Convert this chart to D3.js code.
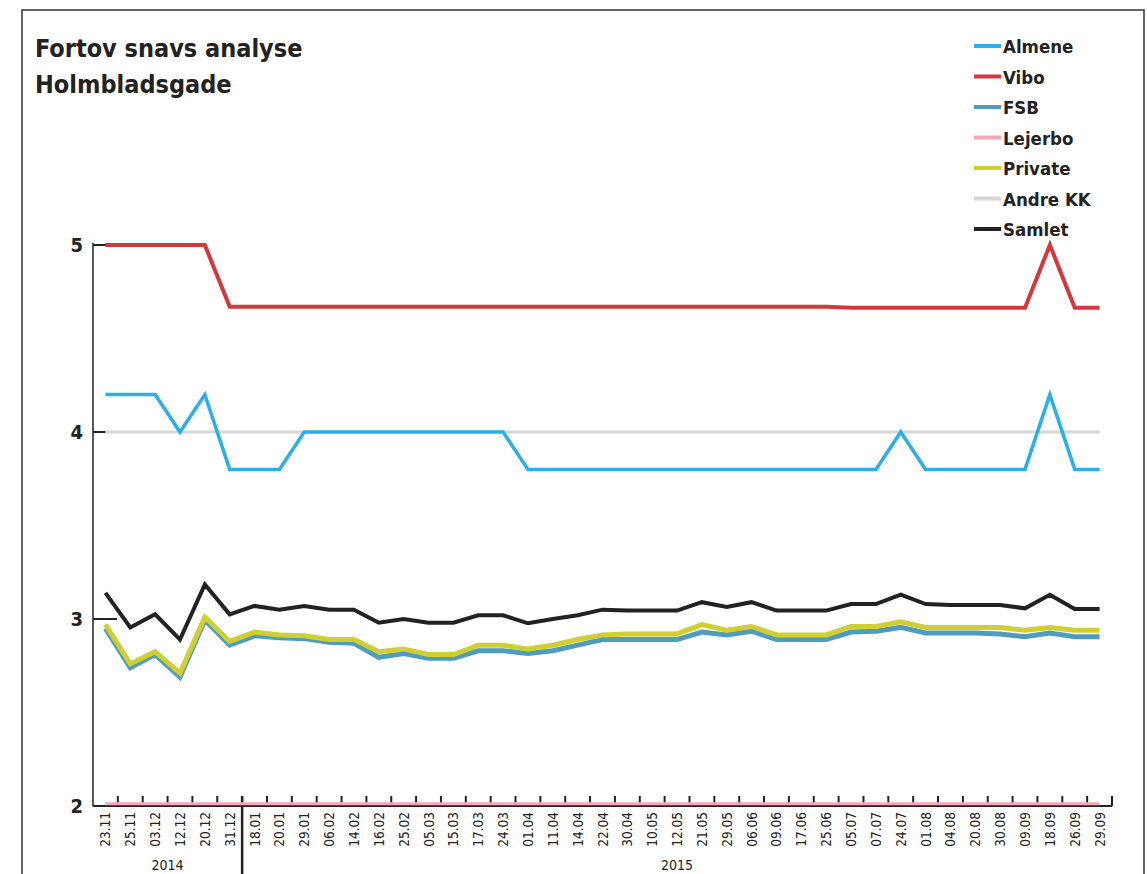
<!DOCTYPE html>
<html>
<head>
<meta charset="utf-8">
<script src="https://cdn.jsdelivr.net/npm/d3@7"></script>
<style>
  body { margin: 0; background: #fff; }
  svg { display: block; }
</style>
</head>
<body>
<svg id="chart" width="1147" height="874"></svg>
<script>
const categories = ["23.11","25.11","03.12","12.12","20.12","31.12",
  "18.01","20.01","29.01","06.02","14.02","16.02","25.02","05.03","15.03","17.03",
  "24.03","01.04","11.04","14.04","22.04","30.04","10.05","12.05","21.05","29.05",
  "06.06","09.06","17.06","25.06","05.07","07.07","24.07","01.08","04.08","20.08",
  "30.08","09.09","18.09","26.09","29.09"];
const yearGroups = [
  { label: "2014", from: 0, to: 5 },
  { label: "2015", from: 6, to: 40 }
];
const yTicks = [2, 3, 4, 5];

const almene = [4.2,4.2,4.2,4.0,4.2,3.8, 3.8,3.8,4.0,4.0,4.0,4.0,4.0,4.0,4.0,4.0,
  4.0,3.8,3.8,3.8,3.8,3.8,3.8,3.8,3.8,3.8, 3.8,3.8,3.8,3.8,3.8,3.8,4.0,3.8,3.8,3.8,
  3.8,3.8,4.2,3.8,3.8];
const vibo = [5,5,5,5,5,4.67, 4.67,4.67,4.67,4.67,4.67,4.67,4.67,4.67,4.67,4.67,
  4.67,4.67,4.67,4.67,4.67,4.67,4.67,4.67,4.67,4.67, 4.67,4.67,4.67,4.67,4.665,4.665,4.665,4.665,4.665,4.665,
  4.665,4.665,5,4.665,4.665];
const fsb = [2.95,2.74,2.81,2.69,2.995,2.86, 2.91,2.9,2.895,2.875,2.87,2.795,2.815,2.79,2.79,2.83,
  2.83,2.815,2.83,2.86,2.89,2.89,2.89,2.89,2.93,2.915, 2.935,2.89,2.89,2.89,2.93,2.935,2.955,2.925,2.925,2.925,
  2.92,2.905,2.925,2.905,2.905];
const lejerbo = [2.012,2.012,2.012,2.012,2.012,2.012, 2.012,2.012,2.012,2.012,2.012,2.012,2.012,2.012,2.012,2.012,
  2.012,2.012,2.012,2.012,2.012,2.012,2.012,2.012,2.012,2.012, 2.012,2.012,2.012,2.012,2.012,2.012,2.012,2.012,2.012,2.012,
  2.012,2.012,2.012,2.012,2.012];
const privat = [2.97,2.76,2.825,2.71,3.01,2.88, 2.93,2.915,2.91,2.89,2.89,2.825,2.84,2.81,2.81,2.86,
  2.86,2.84,2.86,2.89,2.915,2.92,2.92,2.92,2.97,2.94, 2.96,2.915,2.915,2.915,2.96,2.96,2.985,2.955,2.955,2.955,
  2.955,2.94,2.955,2.94,2.94];
const andreKK = [4,4,4,4,4,4, 4,4,4,4,4,4,4,4,4,4, 4,4,4,4,4,4,4,4,4,4, 4,4,4,4,4,4,4,4,4,4, 4,4,4,4,4];
const samlet = [3.14,2.955,3.025,2.89,3.185,3.025, 3.07,3.05,3.07,3.05,3.05,2.98,3.0,2.98,2.98,3.02,
  3.02,2.977,3.0,3.02,3.05,3.045,3.045,3.045,3.09,3.065, 3.09,3.045,3.045,3.045,3.08,3.08,3.13,3.08,3.075,3.075,
  3.075,3.057,3.13,3.053,3.053];

const seriesNames = ["Almene","Vibo","FSB","Lejerbo","Private","Andre KK","Samlet"];
const seriesColors = ["#2bafe6","#d3383f","#4f9cbc","#f4a9b7","#cfcf33","#d6d6d6","#222222"];
const seriesData = [almene, vibo, fsb, lejerbo, privat, andreKK, samlet];
const seriesWidths = [3.5, 4, 5, 3, 5, 3, 4];
const drawOrder = [5, 3, 1, 0, 2, 4, 6];

const svg = d3.select("#chart");
const FONT = "'DejaVu Sans Condensed', 'DejaVu Sans', sans-serif";

// frame
svg.append("rect").attr("x", 22).attr("y", 10).attr("width", 1122).attr("height", 900)
  .attr("fill", "none").attr("stroke", "#333").attr("stroke-width", 1.5);

// title
const title = svg.append("text").attr("x", 35).attr("font-family", FONT)
  .attr("font-weight", "bold").attr("font-size", 25).attr("fill", "#222");
title.append("tspan").attr("x", 35).attr("y", 57).text("Fortov snavs analyse");
title.append("tspan").attr("x", 35).attr("y", 93).text("Holmbladsgade");

const x = d3.scalePoint().domain(categories).range([93, 1112]).padding(0.5);
const y = d3.scaleLinear().domain([2, 5]).range([806, 245]);
const step = x.step();

// y axis line
svg.append("line").attr("x1", 93).attr("x2", 93).attr("y1", y(5) - 2).attr("y2", y(2))
  .attr("stroke", "#222").attr("stroke-width", 1.5);
// y ticks (inside)
svg.selectAll(".ytick").data(yTicks.filter(d => d > 2)).enter().append("line")
  .attr("x1", 93).attr("x2", 117).attr("y1", d => y(d)).attr("y2", d => y(d))
  .attr("stroke", "#222").attr("stroke-width", 2);
svg.selectAll(".ylab").data(yTicks).enter().append("text")
  .attr("x", 83).attr("y", d => y(d) + 7).attr("text-anchor", "end")
  .attr("font-family", FONT).attr("font-weight", "bold").attr("font-size", 20)
  .attr("fill", "#222").text(d => d);

// x axis line
svg.append("line").attr("x1", 93).attr("x2", 1112).attr("y1", y(2)).attr("y2", y(2))
  .attr("stroke", "#222").attr("stroke-width", 2);
// x ticks between categories
const tickPos = d3.range(1, categories.length + 1).map(i => x(categories[0]) - step / 2 + i * step);
svg.selectAll(".xtick").data(tickPos).enter().append("line")
  .attr("x1", d => d).attr("x2", d => d).attr("y1", y(2)).attr("y2", y(2) - 10)
  .attr("stroke", "#222").attr("stroke-width", 2);
// x labels
svg.selectAll(".xlab").data(categories).enter().append("text")
  .attr("transform", d => `translate(${x(d) + 5},812) rotate(-90)`)
  .attr("text-anchor", "end").attr("font-family", FONT).attr("font-size", 13.5)
  .attr("fill", "#222").text(d => d);
// year separator and labels
const sepX = x(categories[5]) + step / 2;
svg.append("line").attr("x1", sepX).attr("x2", sepX).attr("y1", y(2) - 10).attr("y2", 874)
  .attr("stroke", "#222").attr("stroke-width", 2.5);
svg.selectAll(".year").data(yearGroups).enter().append("text")
  .attr("x", d => (x(categories[d.from]) + x(categories[d.to])) / 2)
  .attr("y", 870).attr("text-anchor", "middle").attr("font-family", FONT)
  .attr("font-size", 14).attr("fill", "#222").text(d => d.label);

// lines
const line = d3.line().x((d, i) => x(categories[i])).y(d => y(d));
drawOrder.forEach(k => {
  svg.append("path").datum(seriesData[k]).attr("d", line)
    .attr("fill", "none").attr("stroke", seriesColors[k])
    .attr("stroke-width", seriesWidths[k]).attr("stroke-linejoin", "miter");
});

// legend
const lg = svg.selectAll(".lg").data(seriesNames).enter().append("g")
  .attr("transform", (d, i) => `translate(974,${46 + i * 30.5})`);
lg.append("line").attr("x1", 0).attr("x2", 27).attr("y1", 0).attr("y2", 0)
  .attr("stroke", (d, i) => seriesColors[i]).attr("stroke-width", 4);
lg.append("text").attr("x", 29).attr("y", 7).attr("font-family", FONT)
  .attr("font-weight", "bold").attr("font-size", 18.5).attr("fill", "#222").text(d => d);
</script>
</body>
</html>
